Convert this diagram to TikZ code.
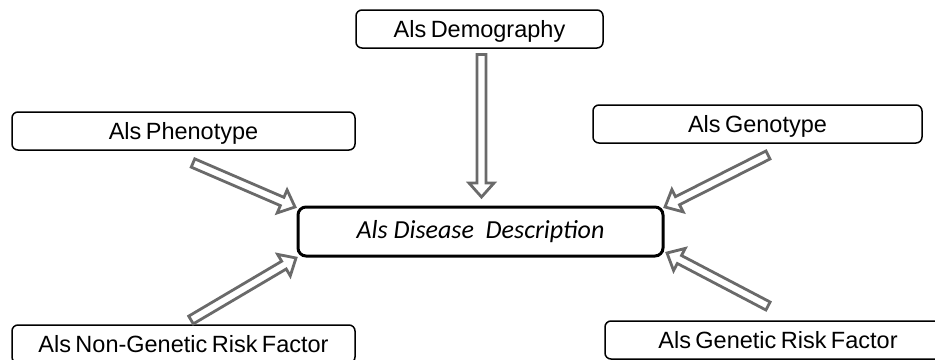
\documentclass[tikz,border=0pt]{standalone}
\usepackage{fontspec}
\setmainfont{Liberation Sans}
\newfontfamily\boxfont[WordSpace=0.68]{Liberation Sans}
\newfontfamily\carl{Carlito}
\usetikzlibrary{calc}
\tikzset{
  box/.style={draw=black, line width=1.5pt, rounded corners=6pt, fill=white,
    font=\boxfont\fontsize{23.5}{25}\selectfont, inner sep=0pt, minimum height=38pt,
    text height=16pt, text depth=0pt},
  mainbox/.style={draw=black, line width=3pt, rounded corners=8pt, fill=white,
    font=\carl\itshape\fontsize{26}{28}\selectfont, inner sep=0pt,
    text height=13pt, text depth=0pt},
  blockarr/.style={draw=arrowgray, line width=2.8pt, fill=white, line join=miter},
}
\definecolor{arrowgray}{HTML}{6A6A6A}
% #1 tail coordinate, #2 tip coordinate
\newcommand\blockarrow[2]{%
  \coordinate (hb) at ($(#2)!14pt!(#1)$);
  \draw[blockarr]
    ($(#1)!4.5pt!90:(#2)$) -- ($(hb)!4.5pt!-90:(#1)$) -- ($(hb)!12.5pt!-90:(#1)$)
    -- (#2) -- ($(hb)!12.5pt!90:(#1)$) -- ($(hb)!4.5pt!90:(#1)$)
    -- ($(#1)!4.5pt!-90:(#2)$) -- cycle;
}
\begin{document}
\begin{tikzpicture}[x=1pt,y=-1pt]
  \useasboundingbox (0,0) rectangle (935,359);
  \clip (0,0) rectangle (935,359);
  \node[box, minimum width=247pt] (demo) at (479.5,29) {Als Demography};
  \node[box, minimum width=343pt] (pheno) at (183.5,131) {Als Phenotype};
  \node[box, minimum width=329pt] (geno) at (757.5,124) {Als Genotype};
  \node[box, minimum width=343pt] (nongen) at (183.5,344) {Als Non-Genetic Risk Factor};
  \node[box, minimum width=346pt] (gen) at (778,340) {Als Genetic Risk Factor};
  \node[mainbox, minimum width=365pt, minimum height=49pt] (desc) at (480.5,231.5) {Als Disease\ \ Description};

  \coordinate (t1) at (481.5,54.5);  \coordinate (e1) at (481.5,197);
  \coordinate (t2) at (193,163);     \coordinate (e2) at (295,207);
  \coordinate (t3) at (191,320);     \coordinate (e3) at (296,258);
  \coordinate (t4) at (768,155);     \coordinate (e4) at (665,207);
  \coordinate (t5) at (768,306);     \coordinate (e5) at (667,253);
  \blockarrow{t1}{e1}
  \blockarrow{t2}{e2}
  \blockarrow{t3}{e3}
  \blockarrow{t4}{e4}
  \blockarrow{t5}{e5}
\end{tikzpicture}
\end{document}
